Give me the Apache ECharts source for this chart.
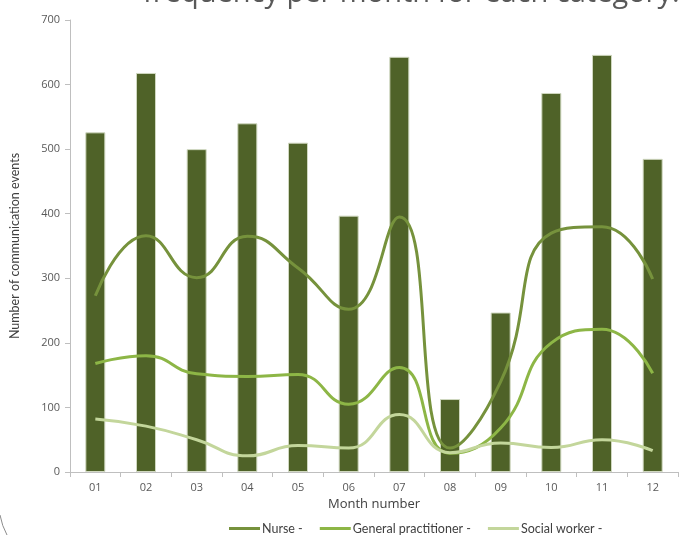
<!DOCTYPE html>
<html>
<head>
<meta charset="utf-8">
<script src="https://cdn.jsdelivr.net/npm/echarts@6/dist/echarts.min.js"></script>
<style>html,body{margin:0;padding:0;background:#fff;}#c{width:681px;height:535px;}</style>
</head>
<body>
<div id="c"></div>
<script>
const months = ['01','02','03','04','05','06','07','08','09','10','11','12'];
const totals = [526, 618, 500, 540, 510, 397, 643, 113, 247, 587, 646, 485];
const nurse = [273, 366, 301, 365, 316, 252, 395, 37, 140, 370, 380, 299];
const gp = [168, 180, 152, 148, 151, 105, 162, 29, 68, 200, 221, 153];
const social = [82, 71, 50, 25, 41, 37, 89, 30, 45, 38, 50, 33];
const yTicks = [0, 100, 200, 300, 400, 500, 600, 700];

const FONT = '"Open Sans", "Noto Sans", sans-serif';
const FONT2 = 'Lato, "Open Sans", sans-serif';
const chart = echarts.init(document.getElementById('c'));
chart.setOption({
  animation: false,
  backgroundColor: '#fff',
  grid: { left: 70, right: 3, top: 20, bottom: 63 },
  graphic: [
    { type: 'text', left: 143, top: -21, silent: true,
      style: { text: 'frequency per month for each category.', fill: '#595959',
        font: '29px ' + FONT } },
    { type: 'bezierCurve', silent: true,
      shape: { x1: 0, y1: 515, x2: 7, y2: 535, cpx1: 2, cpy1: 526 },
      style: { stroke: '#8c8c8c', lineWidth: 1, fill: null } }
  ],
  legend: {
    data: ['Nurse -', 'General practitioner -', 'Social worker -'],
    left: 224, top: 517, icon: 'rect', itemWidth: 31, itemHeight: 3, itemGap: 17,
    textStyle: { fontFamily: FONT2, fontSize: 12.5, color: '#404040', padding: [0, 0, 0, -3] }
  },
  xAxis: {
    type: 'category', data: months,
    name: 'Month number', nameLocation: 'middle', nameGap: 23,
    nameTextStyle: { fontFamily: FONT, fontSize: 13, color: '#404040' },
    axisLine: { lineStyle: { color: '#bfbfbf', width: 1 } },
    axisTick: { show: true, length: 5, lineStyle: { color: '#bfbfbf' } },
    axisLabel: { fontFamily: FONT, fontSize: 11, color: '#595959', margin: 10 }
  },
  yAxis: {
    type: 'value', min: 0, max: 700, interval: 100,
    name: 'Number of communication events', nameLocation: 'middle', nameGap: 49,
    nameTextStyle: { fontFamily: FONT2, fontSize: 12.5, color: '#404040' },
    axisLine: { show: true, lineStyle: { color: '#bfbfbf', width: 1 } },
    axisTick: { show: true, length: 5, lineStyle: { color: '#bfbfbf' } },
    splitLine: { show: false },
    axisLabel: { fontFamily: FONT, fontSize: 11, color: '#595959', margin: 10,
      formatter: v => yTicks.includes(v) ? String(v) : '' }
  },
  series: [
    { type: 'bar', name: 'Total', data: totals, barWidth: 20, z: 1,
      itemStyle: { color: '#4f6228', borderColor: '#d0d8c0', borderWidth: 1 } },
    { type: 'line', name: 'Nurse -', data: nurse, smooth: 0.5, symbol: 'none', z: 3,
      lineStyle: { color: '#76923c', width: 3 }, itemStyle: { color: '#76923c' } },
    { type: 'line', name: 'General practitioner -', data: gp, smooth: 0.5, symbol: 'none', z: 3,
      lineStyle: { color: '#8db646', width: 3 }, itemStyle: { color: '#8db646' } },
    { type: 'line', name: 'Social worker -', data: social, smooth: 0.5, symbol: 'none', z: 3,
      lineStyle: { color: '#c3d69b', width: 3 }, itemStyle: { color: '#c3d69b' } }
  ]
});
</script>
</body>
</html>
